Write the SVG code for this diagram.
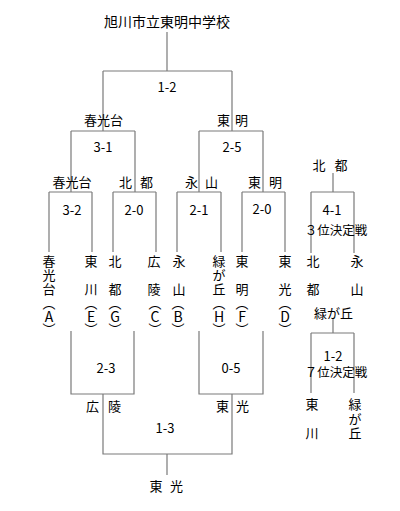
<svg xmlns="http://www.w3.org/2000/svg" width="400" height="511" viewBox="0 0 400 511">
<style>
text{font-family:"Noto Sans CJK JP","Noto Sans CJK SC",sans-serif;font-size:13px;fill:#000;text-anchor:middle}
.t{font-size:14px}
.s{font-size:12.5px}
.l{font-size:14px}
.p{font-size:13px}
#connectors path{fill:none;stroke:#7a7a7a;stroke-width:1.2}
</style>
<rect width="400" height="511" fill="#fff"/>
<g id="connectors">
<path d="M167 32V71M103 71H232M103 71V131M232 71V131"/>
<path d="M71 131H135M71 131V192M135 131V192M199 131H263M199 131V192M263 131V192"/>
<path d="M49 192H92M49 192V252M92 192V252"/>
<path d="M113 192H156M113 192V252M156 192V252"/>
<path d="M177 192H221M177 192V252M221 192V252"/>
<path d="M242 192H285M242 192V252M285 192V252"/>
<path d="M71 331V394H134V331M199 331V394H263V331"/>
<path d="M103 394V454H232V394M167 454V475"/>
<path d="M333 173V192M311 192H354M311 192V253M354 192V253"/>
<path d="M333 318V333M311 333H354M311 333V393M354 333V393"/>
</g>
<g id="title"><text class="t" x="167" y="27">旭川市立東明中学校</text></g>
<g id="scores">
<text x="167" y="92">1-2</text>
<text x="103" y="152">3-1</text>
<text x="232" y="152">2-5</text>
<text x="72" y="215">3-2</text>
<text x="134" y="215">2-0</text>
<text x="199" y="215">2-1</text>
<text x="262" y="214">2-0</text>
<text x="106" y="373">2-3</text>
<text x="231" y="373">0-5</text>
<text x="165" y="433">1-3</text>
<text x="332" y="215">4-1</text>
<text x="333" y="361">1-2</text>
</g>
<g id="winners">
<text x="103.5" y="125">春光台</text>
<text x="223.5 241.5" y="125">東明</text>
<text x="72" y="187">春光台</text>
<text x="125.5 146.5" y="187">北都</text>
<text x="191.5 211.5" y="187">永山</text>
<text x="254.5 275.5" y="187">東明</text>
<text x="92.5 114.5" y="411">広陵</text>
<text x="222.5 242.5" y="411">東光</text>
<text x="156 176.5" y="491">東光</text>
<text x="319 341" y="170">北都</text>
<text x="333.5" y="318">緑が丘</text>
</g>
<g id="teams">
<text x="49" y="266">春</text><text x="49" y="280">光</text><text x="49" y="294">台</text>
<text x="91" y="266">東</text><text x="91" y="294">川</text>
<text x="115" y="266">北</text><text x="115" y="294">都</text>
<text x="154" y="266">広</text><text x="154" y="294">陵</text>
<text x="179" y="266">永</text><text x="179" y="294">山</text>
<text x="219" y="266">緑</text><text x="219" y="280">が</text><text x="219" y="294">丘</text>
<text x="242" y="266">東</text><text x="242" y="294">明</text>
<text x="285" y="266">東</text><text x="285" y="294">光</text>
</g>
<g id="letters">
<text class="p" x="49 91 115 155 178 219 242 285" y="308">︵︵︵︵︵︵︵︵</text>
<text class="l" x="49 91 115 155 178 219 242 285" y="322">AEGCBHFD</text>
<text class="p" x="49 91 115 155 178 219 242 285" y="334">︶︶︶︶︶︶︶︶</text>
</g>
<g id="third">
<text class="s" x="336" y="235">３位決定戦</text>
<text x="313" y="266">北</text><text x="313" y="294">都</text>
<text x="357" y="266">永</text><text x="357" y="294">山</text>
</g>
<g id="seventh">
<text class="s" x="336" y="377">７位決定戦</text>
<text x="312" y="409">東</text><text x="312" y="438">川</text>
<text x="355" y="409">緑</text><text x="355" y="424">が</text><text x="355" y="438">丘</text>
</g>
</svg>
